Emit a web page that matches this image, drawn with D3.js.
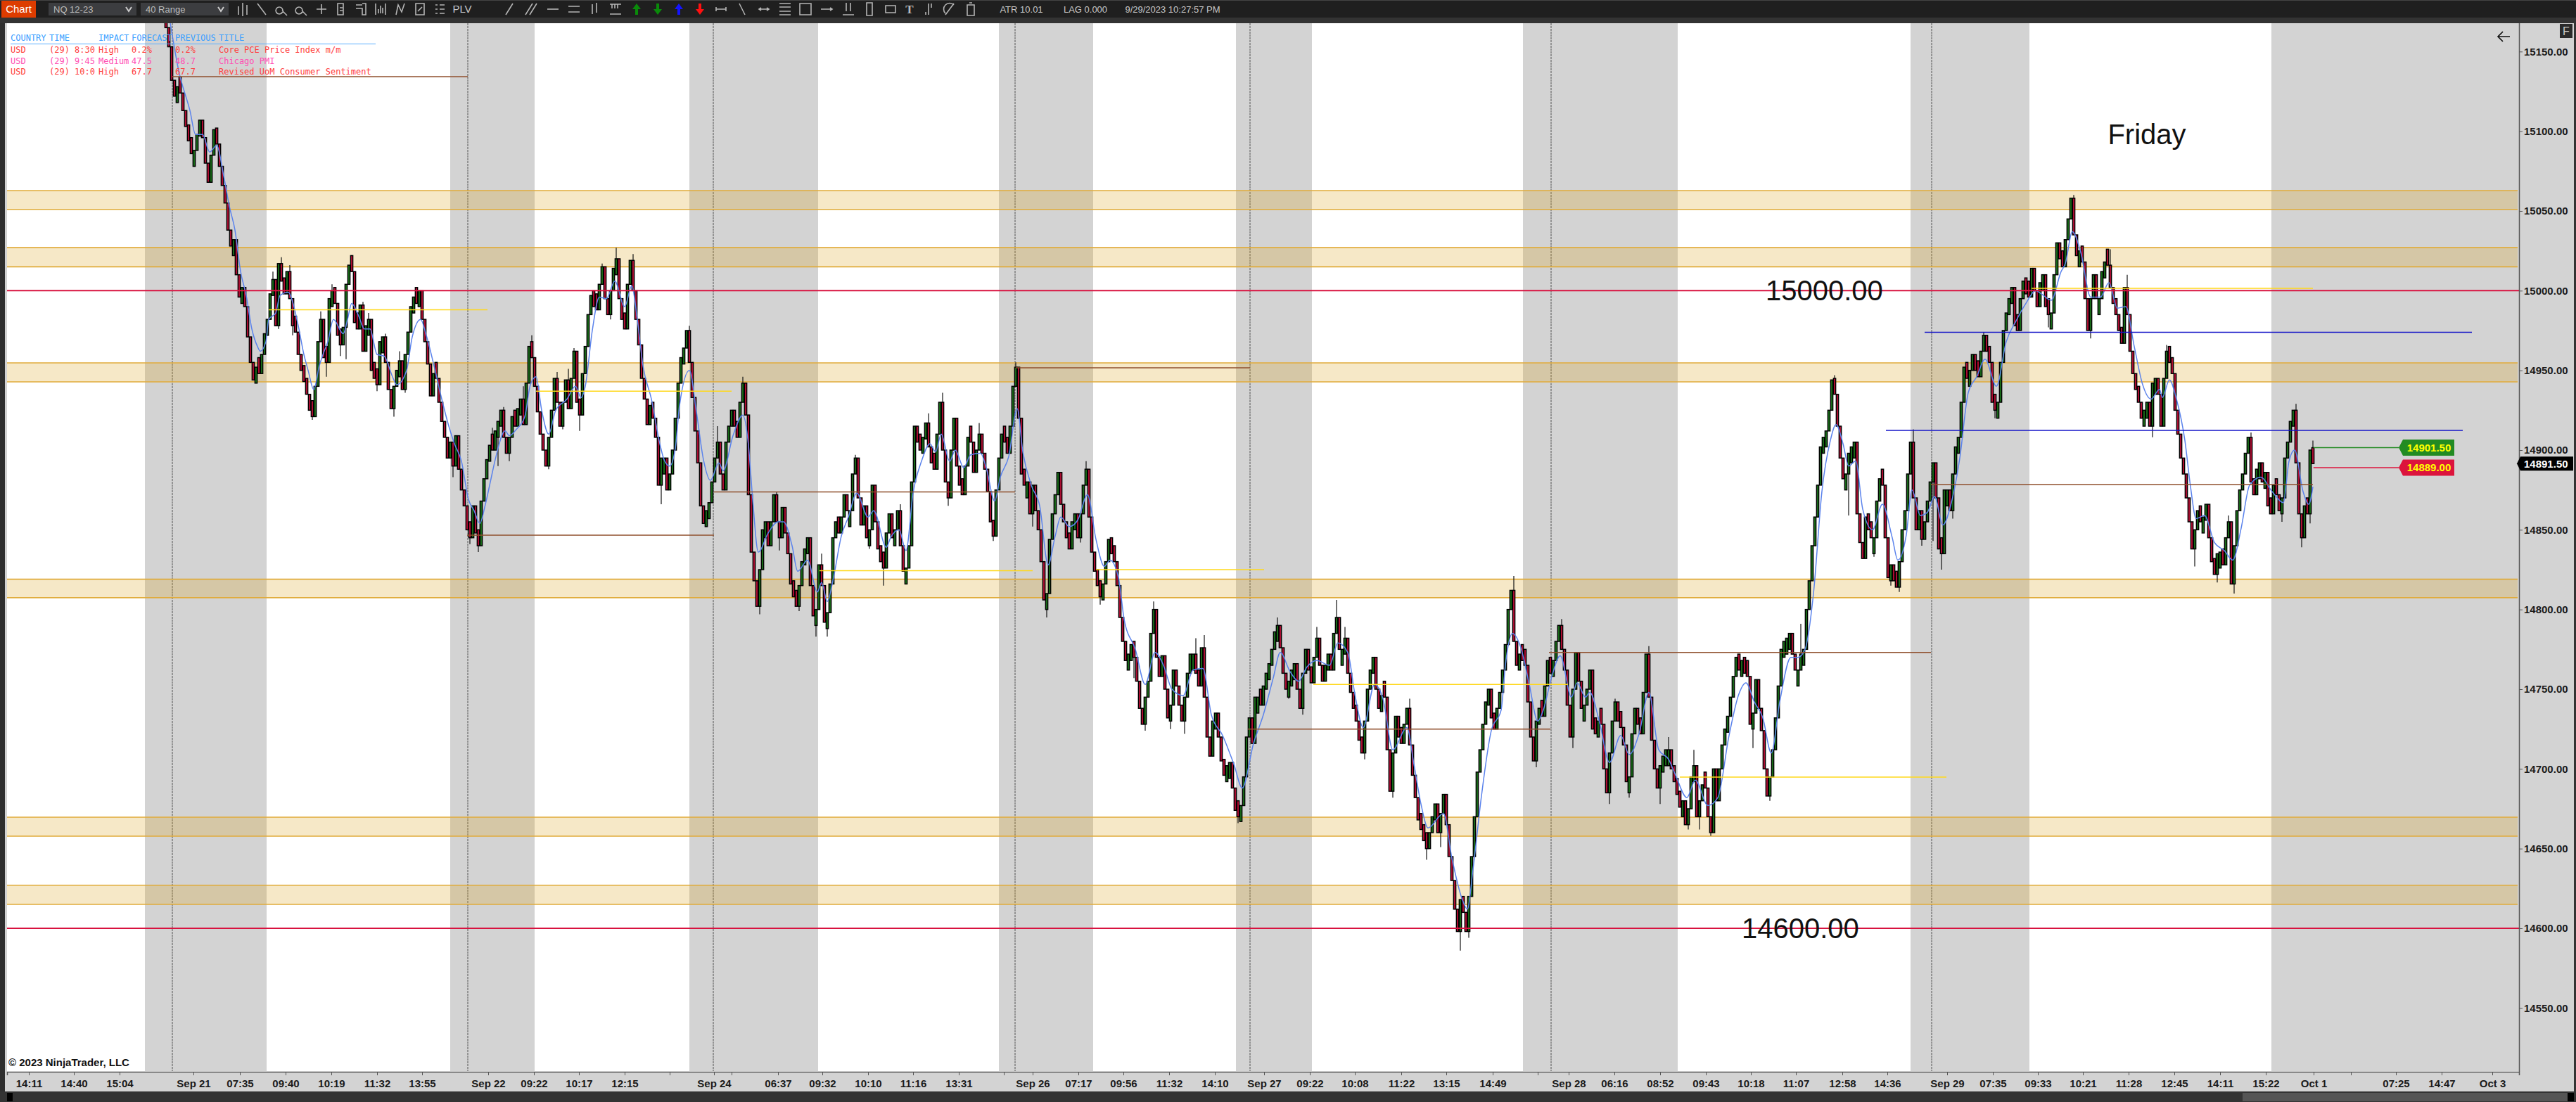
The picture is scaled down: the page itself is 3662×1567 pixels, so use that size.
<!DOCTYPE html>
<html><head><meta charset="utf-8"><title>NQ 12-23 40 Range</title>
<script src="https://cdn.jsdelivr.net/npm/d3@7"></script>
<style>html,body{margin:0;padding:0;background:#333;overflow:hidden}svg{display:block}text{font-family:"Liberation Sans",Arial,sans-serif}</style>
</head><body><svg id="c" width="3662" height="1567"></svg>
<script>
// ---------- data ----------
const firstBarSlot = 56.5;
const closes1=[15165,15153,15132,15122,15128,15124,15113,15103,15094,15086,15088,15098,15107,15096,15080,15068,15085,15101,15092,15078,15066,15055,15038,15028,15032,15010,14996,15002,14990,14971,14955,14944,14952,14948,14960,14973,14982,14998,15007,14978,15017,15006,14998,15012,14995,14978,14974,14960,14950,14943];
const closes2=[14935,14925,14921,14940,14968,14982,14958,14955,14995,15000,14992,14972,14966,14977,15004,15016,15012,14980,14976,14991,14962,14978,14982,14950,14945,14941,14968,14971,14955,14938,14926,14940,14950,14956,14938,14960,14974,14990,14996,14992,15000,14982,14968,14954,14934,14948,14945,14930,14918,14908];
const closes3=[14895,14905,14890,14909,14888,14875,14865,14850,14845,14865,14848,14840,14868,14882,14894,14903,14900,14912,14918,14925,14908,14898,14908,14921,14915,14926,14932,14916,14942,14965,14958,14940,14924,14910,14900,14890,14908,14925,14945,14930,14915,14930,14944,14926,14945,14962,14930,14922,14948,14965];
const closes4=[14985,14997,14990,14988,15004,15015,14995,14985,15000,15014,15020,14995,14982,14976,15004,15019,15000,14982,14966,14945,14932,14916,14928,14920,14908,14878,14895,14895,14875,14885,14900,14920,14942,14958,14964,14975,14955,14933,14912,14892,14865,14854,14862,14867,14880,14895,14905,14885,14875,14905];
const closes5=[14915,14925,14915,14908,14930,14942,14922,14872,14836,14818,14802,14825,14850,14855,14840,14855,14872,14855,14845,14864,14848,14835,14816,14808,14802,14815,14830,14838,14845,14815,14796,14800,14828,14815,14792,14798,14816,14845,14855,14848,14858,14872,14862,14862,14885,14895,14870,14853,14865,14845];
const closes6=[14850,14878,14855,14838,14830,14826,14848,14860,14845,14850,14862,14840,14824,14826,14840,14880,14915,14905,14900,14908,14917,14902,14892,14888,14910,14930,14900,14880,14870,14900,14920,14890,14878,14872,14890,14908,14905,14886,14900,14910,14898,14888,14874,14855,14846,14875,14895,14910,14905,14898];
const closes7=[14915,14940,14952,14920,14885,14878,14880,14860,14878,14862,14850,14830,14806,14810,14844,14860,14872,14886,14866,14855,14845,14838,14855,14860,14845,14860,14878,14888,14858,14836,14824,14815,14808,14816,14830,14844,14835,14830,14815,14795,14780,14768,14772,14778,14770,14755,14738,14728,14745,14755];
const closes8=[14785,14800,14770,14758,14771,14750,14732,14740,14762,14752,14740,14730,14745,14760,14772,14772,14760,14752,14776,14745,14720,14708,14730,14735,14720,14705,14696,14702,14704,14688,14674,14670,14677,14695,14720,14732,14716,14745,14745,14740,14752,14760,14766,14775,14786,14790,14776,14760,14750,14755];
const closes9=[14762,14766,14750,14738,14760,14775,14762,14754,14770,14782,14765,14755,14765,14772,14762,14785,14795,14775,14775,14782,14760,14748,14738,14730,14718,14710,14730,14750,14762,14770,14750,14738,14746,14745,14712,14686,14710,14733,14720,14716,14728,14738,14715,14696,14682,14668,14662,14655,14650,14660];
const closes10=[14670,14678,14660,14672,14684,14665,14645,14630,14612,14598,14618,14610,14598,14620,14645,14670,14698,14712,14728,14742,14750,14732,14725,14738,14748,14762,14778,14800,14812,14780,14765,14772,14768,14765,14742,14720,14705,14730,14738,14733,14752,14768,14760,14768,14780,14790,14775,14762,14740,14720];
const closes11=[14750,14773,14755,14738,14740,14750,14762,14725,14722,14730,14728,14700,14685,14710,14730,14742,14730,14726,14715,14692,14695,14722,14738,14728,14722,14748,14772,14745,14718,14700,14688,14702,14708,14712,14712,14700,14692,14684,14676,14680,14665,14675,14695,14702,14670,14680,14690,14688,14670,14660];
const closes12=[14700,14680,14700,14715,14725,14733,14745,14758,14770,14762,14768,14760,14758,14728,14735,14756,14738,14724,14700,14683,14695,14712,14732,14752,14775,14780,14782,14785,14772,14762,14762,14772,14775,14800,14818,14840,14858,14878,14902,14908,14912,14925,14944,14935,14915,14895,14882,14885,14898,14902];
const closes13=[14905,14860,14842,14832,14858,14850,14845,14845,14868,14882,14878,14845,14820,14828,14818,14814,14830,14850,14862,14885,14905,14870,14850,14862,14844,14855,14868,14880,14892,14870,14838,14835,14875,14875,14862,14885,14902,14908,14930,14952,14945,14950,14960,14950,14946,14962,14972,14962,14955,14930];
const closes14=[14925,14930,14955,14975,14986,14995,15002,14978,14975,14995,15006,14998,14996,15014,15000,14990,15005,15010,14990,14985,14986,15010,15030,15020,15015,15032,15045,15058,15035,15022,15025,15018,14995,14975,14995,15010,14995,14995,15012,15018,15016,15002,14992,14985,14975,14967,15002,14985,14962,14948];
const closes15=[14938,14930,14920,14925,14930,14915,14942,14945,14935,14915,14945,14962,14955,14948,14925,14910,14895,14885,14870,14855,14838,14850,14862,14855,14858,14866,14845,14830,14822,14835,14836,14828,14845,14855,14816,14840,14862,14875,14885,14898,14908,14880,14872,14888,14892,14880,14886,14865,14860,14878,14872,14862,14870,14895,14905,14918,14925,14892,14860,14845,14865,14860,14900,14891.5];
const barRange = 10; // a 40-tick range bar spans 10 points

const wickSlots=[88,94,96,97,100,101,108,111,113,115,118,120,122,126,128,131,134,137,139,141,144,146,158,164,167,172,174,176,178,183,186,192,195,197,199,201,203,211,214,216,222,232,242,252,261,267,273,274,281,287,289,291,301,306,311,317,319,327,332,334,342,345,350,358,364,369,381,383,388,400,404,407,413,418,422,425,437,451,455,460,465,472,475,482,492,498,504,509,516,519,535,543,552,556,569,571,576,583,587,590,595,597,599,601,605,620,626,637,649,654,663,669,672,677,680,684,687,691,702,706,725,734,740,747,753,762,767,777,785,789,791,797,808,813,815,818,819];
const wickTips=[14942,15012,14976,15021,15016,14972,14919,14987,14946,15004,14959,14957,15018,14993,14986,14937,14973,14921,14962,14936,14995,15000,14883,14841,14836,14914,14890,14927,14893,14940,14972,14888,14949,14913,14951,14964,14912,15017,14982,15027,15023,14866,14978,14915,14946,14797,14874,14837,14799,14783,14835,14783,14897,14838,14815,14866,14817,14923,14936,14865,14914,14917,14843,14955,14852,14795,14842,14893,14803,14757,14724,14805,14725,14722,14782,14784,14666,14795,14744,14734,14789,14806,14789,14706,14682,14744,14643,14651,14586,14594,14821,14701,14794,14713,14678,14744,14682,14777,14678,14720,14670,14662,14712,14662,14658,14713,14680,14791,14947,14859,14833,14815,14811,14913,14840,14843,14825,14857,14974,14920,14977,15060,14970,15026,15010,14908,14966,14827,14817,14859,14810,14911,14855,14929,14839,14854,14906];

const avgSlots=[58,61,65,67,69.5,72,74.5,77,79,81,83,85,87,89,90,92,93,95.5,97,100,101.5,103.5,105.5,107,109,111,112.5,114,116,119.5,121,122.5,125,127,129,131.5,134,137,138.5,142,144,147,149,152,154.5,157,159,161.5,164,166,168,170,172,173.5,177,178.5,181,184,186,188,190,192.5,195,199,202,204,205.5,208,210.5,213,216,219.5,222,224,226,229,232,233.5,235.5,237.5,239,242.5,245,247.5,250,253,254.5,258,261.5,263.5,265,267,270.5,274,276,279,281,284.5,288,289.5,291.5,293.5,296.5,299,302,306,308,312.5,314,317,319.5,322,325,328,330,332,335,337,340,342.5,346,348,351,353,356,359,361,364,367,370,372.5,374.5,377.5,380.5,384,387,390,392,395,397,401,404.5,408,411,414,418,421.5,425,428,432,436,439,443,446.5,450,452.5,456,459,462,465.5,470,473,476.5,479,482,486,489,492.5,497.5,500,502.5,505,510.5,513.5,517,519,521,524,527.5,531,532.5,535,538,541,544,546,549,552,556,558,561,562.5,566,569.5,573.5,576.5,580,583.5,587,590.5,593,597,600,604.5,608,612,615.5,618,621,624,627,630,634,636.5,639,642,645,648,650,652.5,654.5,657,659.5,663,666.5,670,672,675,677,680,682.5,685,688,691,694,697,700,703,707,710.5,714,717.5,721,723,726.5,730,731.5,734,737,740.5,744,747,750,753,756,759,762,765,766,768.5,771,774,776,778,781,784.5,788,791,794,797,801,805,809,811,813,816,818,819.5];
const avgValues=[15168,15138,15113,15098,15098,15087,15091,15072,15053,15038,15012,14997,14976,14965,14962,14968,14982,14986,14997,14999,14993,14978,14960,14950,14938,14953,14961,14968,14982,14973,14982,14992,14984,14976,14976,14960,14959,14946,14941,14950,14971,14982,14972,14951,14932,14915,14904,14893,14869,14862,14854,14866,14882,14894,14912,14909,14913,14921,14941,14946,14925,14910,14925,14932,14940,14933,14940,14975,14996,14995,15006,14990,15003,14982,14953,14932,14904,14894,14890,14901,14928,14950,14924,14894,14881,14892,14887,14909,14922,14903,14869,14836,14848,14855,14855,14840,14824,14831,14811,14817,14805,14818,14846,14858,14873,14858,14862,14839,14845,14850,14837,14873,14893,14904,14899,14910,14893,14900,14889,14897,14898,14889,14868,14883,14896,14926,14899,14878,14865,14828,14846,14858,14852,14856,14872,14844,14827,14831,14820,14794,14775,14753,14773,14765,14750,14746,14762,14763,14734,14721,14703,14688,14716,14734,14757,14773,14761,14755,14764,14768,14765,14779,14773,14747,14726,14753,14744,14712,14726,14703,14678,14663,14672,14644,14619,14612,14637,14683,14724,14737,14765,14785,14776,14753,14730,14737,14758,14771,14745,14754,14745,14748,14729,14704,14721,14709,14722,14748,14712,14706,14696,14682,14693,14677,14682,14721,14747,14754,14742,14732,14710,14742,14770,14770,14775,14810,14874,14906,14916,14904,14890,14893,14863,14850,14866,14845,14831,14847,14875,14859,14861,14871,14853,14867,14895,14936,14946,14957,14940,14968,14981,14992,15000,14998,14994,15012,15017,15037,15024,14996,14996,15005,14989,14990,14965,14941,14932,14938,14933,14944,14932,14906,14877,14857,14859,14842,14837,14831,14851,14878,14883,14874,14867,14893,14900,14874,14866,14877];

const slotMax=892.75;
const sessionStart=[49,157.5,242.5,352.5,436.75,538.75,676.5,804.75];
const sessionEnd=[92.25,187.5,288.25,386,463.75,593.75,718.75,892.75];
const dayBreakSlots=[58.75,163.75,251,358.25,441.75,548.75,684];
const zoneTop=[15062.8,15027,14954.7,14819,14669.7,14627];
const zoneBottom=[15051,15015,14942.8,14807.4,14657.8,14615];
const redLevels=[15000,14600];
const brownPrice=[15134.3,14846.6,14873.7,14951.6,14725,14773,14878.4];
const brownFrom=[58.75,163.5,251.25,358.5,441,548,683.75];
const brownTo=[163.75,251.25,358.25,441.75,548.5,683.75,819.5];
const goldPrice=[14988,14937,14824.3,14825,14753,14694.9,15001.5];
const goldFrom=[93,188,288.75,387,464.25,594.5,719.5];
const goldTo=[170.75,257.5,364.5,446.75,554.75,689.25,819.5];
const bluePrice=[14973.9,14912.4];
const blueFrom=[681.5,667.75];
const blueTo=[876,872.75];
const priceTicks=[15150,15100,15050,15000,14950,14900,14850,14800,14750,14700,14650,14600,14550];
const tickSlots=[7.75,23.75,40,66.25,82.75,99,115.25,131.5,147.5,171,187.25,203.25,219.5,235.5,251.25,257.5,274,289.75,306,322,338.25,354.25,364.5,380.75,396.75,413,429.25,446.75,463,479,495.5,511.5,528,544,555,571.25,587.5,603.75,619.75,635.75,652.25,668.25,689.5,705.75,721.75,737.75,754,770.25,786.5,802.75,819.75,833,849,865.25,883.25];
const tickLabels=["14:11","14:40","15:04","Sep 21","07:35","09:40","10:19","11:32","13:55","Sep 22","09:22","10:17","12:15","","Sep 24","","06:37","09:32","10:10","11:16","13:31","","Sep 26","07:17","09:56","11:32","14:10","Sep 27","09:22","10:08","11:22","13:15","14:49","","Sep 28","06:16","08:52","09:43","10:18","11:07","12:58","14:36","Sep 29","07:35","09:33","10:21","11:28","12:45","14:11","15:22","Oct 1","","07:25","14:47","Oct 3"];
const newsHeader=["COUNTRY","TIME","IMPACT","FORECAST","PREVIOUS","TITLE"];
const newsRows=[["USD","(29) 8:30","High","0.2%","0.2%","Core PCE Price Index m/m"],["USD","(29) 9:45","Medium","47.5","48.7","Chicago PMI"],["USD","(29) 10:0","High","67.7","67.7","Revised UoM Consumer Sentiment"]];
const newsColors=["#ff3d3d","#ff4fb4","#ff3d3d"];
const bigNotes=[["15000.00",15000],["14600.00",14600]];
const askPrice=14901.5, bidPrice=14889, lastPrice=14891.5;

// ---------- layout ----------
const L=10,R=3581,T=33,B=1524;
const x=d3.scaleLinear().domain([0,slotMax]).range([L,R]);
const y=d3.scaleLinear().domain([14900,14550]).range([640,640+350*2.2667]);
const svg=d3.select("#c");
const closes=[closes1,closes2,closes3,closes4,closes5,closes6,closes7,closes8,closes9,closes10,closes11,closes12,closes13,closes14,closes15].flat();
const bars=closes.map((c,i)=>{
  const prev=i?closes[i-1]:c+barRange, up=c>=prev;
  const open=Math.abs(c-prev)>barRange?prev:(up?c-barRange:c+barRange);
  return {slot:firstBarSlot+i,close:c,open,up};
});

svg.append("rect").attr("width",3662).attr("height",1567).attr("fill","#d3d3d3");
svg.append("rect").attr("x",L).attr("y",T).attr("width",R-L).attr("height",B-T).attr("fill","#fff");
svg.append("defs").append("clipPath").attr("id","plot").append("rect").attr("x",L).attr("y",T).attr("width",R-L).attr("height",B-T-1);
const plot=svg.append("g").attr("clip-path","url(#plot)");

plot.selectAll("rect.s").data(sessionStart).join("rect").attr("class","s")
  .attr("x",d=>x(d)).attr("width",(d,i)=>x(sessionEnd[i])-x(d)).attr("y",T).attr("height",B-T).attr("fill","#d3d3d3");
plot.selectAll("line.d").data(dayBreakSlots).join("line").attr("class","d")
  .attr("x1",d=>x(d)).attr("x2",d=>x(d)).attr("y1",T).attr("y2",B).attr("stroke","#555").attr("stroke-width",1).attr("stroke-dasharray","3,1");

// zones
const zones=plot.selectAll("g.z").data(zoneTop).join("g").attr("class","z");
zones.append("rect").attr("x",L).attr("width",R-L-2).attr("y",d=>y(d)).attr("height",(d,i)=>y(zoneBottom[i])-y(d)).attr("fill","goldenrod").attr("fill-opacity",.25);
zones.append("line").attr("x1",L).attr("x2",R-2).attr("y1",d=>y(d)).attr("y2",d=>y(d)).attr("stroke","#e0ab3a").attr("stroke-width",1.6);
zones.append("line").attr("x1",L).attr("x2",R-2).attr("y1",(d,i)=>y(zoneBottom[i])).attr("y2",(d,i)=>y(zoneBottom[i])).attr("stroke","#e0ab3a").attr("stroke-width",1.6);

// news table
const news=svg.append("g").attr("font-size",12);
const newsX=[15,70,140,187,249,311];
newsHeader.forEach((t,i)=>news.append("text").text(t).attr("x",newsX[i]).attr("y",58).attr("fill","#3aa0ff").style("font-family","'DejaVu Sans Mono',monospace"));
news.append("line").attr("x1",15).attr("x2",534).attr("y1",62.5).attr("y2",62.5).attr("stroke","#58aeff").attr("stroke-width",1);
newsRows.forEach((r,k)=>r.forEach((t,i)=>news.append("text").text(t).attr("x",newsX[i]).attr("y",75+k*15.5).attr("fill",newsColors[k]).style("font-family","'DejaVu Sans Mono',monospace")));

// wicks
const wg=plot.append("g").attr("stroke","#111").attr("stroke-width",1.2);
wickSlots.forEach((s,i)=>{
  const b=bars[Math.max(0,Math.min(bars.length-1,Math.round(s-firstBarSlot)))];
  wg.append("line").attr("x1",x(b.slot)).attr("x2",x(b.slot)).attr("y1",y(b.close)).attr("y2",y(wickTips[i]));
});
// candles
plot.append("g").selectAll("rect").data(bars).join("rect")
  .attr("x",d=>x(d.slot)-1.6).attr("width",3.2)
  .attr("y",d=>y(Math.max(d.open,d.close))).attr("height",d=>Math.abs(y(d.open)-y(d.close)))
  .attr("fill",d=>d.up?"#1c7a1c":"#c8103a").attr("stroke","#000").attr("stroke-width",1.5);

// moving average
plot.append("path").datum(avgSlots).attr("fill","none").attr("stroke","#5b83ec").attr("stroke-width",1.5)
  .attr("d",d3.line().x(d=>x(d)).y((d,i)=>y(avgValues[i])).curve(d3.curveMonotoneX));

// horizontal levels
function levels(p,f,t,col,w){plot.append("g").selectAll("line").data(p).join("line")
  .attr("x1",(d,i)=>x(f[i])).attr("x2",(d,i)=>x(t[i])).attr("y1",d=>y(d)).attr("y2",d=>y(d)).attr("stroke",col).attr("stroke-width",w);}
levels(redLevels,redLevels.map(()=>0),redLevels.map(()=>slotMax),"#d8123f",2);
levels(brownPrice,brownFrom,brownTo,"#8f4f2c",1.5);
levels(goldPrice,goldFrom,goldTo,"#ffd81a",1.5);
levels(bluePrice,blueFrom,blueTo,"#1414c8",1.5);

// big annotations
const bigX=[2510,2476];
bigNotes.forEach((n,i)=>plot.append("text").text(n[0]).attr("x",bigX[i]).attr("y",y(n[1])+14).attr("font-size",40).attr("fill","#111"));
plot.append("text").text("Friday").attr("x",3052).attr("y",205).attr("text-anchor","middle").attr("font-size",40).attr("fill","#111");
plot.append("text").text("© 2023 NinjaTrader, LLC").attr("x",12).attr("y",1516).attr("font-size",15).attr("font-weight",700).attr("fill","#111");
plot.append("path").attr("d","M3568 52H3551M3558 45L3551 52L3558 59").attr("fill","none").attr("stroke","#111").attr("stroke-width",1.6);

// order markers
function marker(v,label,col){
  const yy=y(v);
  svg.append("line").attr("x1",x(819.7)).attr("x2",3410).attr("y1",yy).attr("y2",yy).attr("stroke",col).attr("stroke-width",1.5);
  svg.append("path").attr("d",`M3410 ${yy}L3416 ${yy-11.5}H3489V${yy+11.5}H3416Z`).attr("fill",col);
  svg.append("text").text(label).attr("x",3453).attr("y",yy+5.5).attr("text-anchor","middle").attr("font-size",15).attr("font-weight",700).attr("fill","#ffff00");
}
marker(askPrice,d3.format(".2f")(askPrice),"#228b22");
marker(bidPrice,d3.format(".2f")(bidPrice),"#dc143c");

// axes
const ax=svg.append("g").attr("transform",`translate(0,${B})`).call(d3.axisBottom(x).tickValues(tickSlots).tickFormat((d,i)=>tickLabels[i]).tickSize(5).tickPadding(6));
ax.select(".domain").attr("stroke","#555").attr("stroke-width",1.5);
ax.selectAll(".tick line").attr("stroke","#555");
ax.selectAll("text").attr("font-size",15).attr("font-weight",700).attr("fill","#1a1a1a").style("font-family","'Liberation Sans',Arial,sans-serif");
const ay=svg.append("g").attr("transform",`translate(${R},0)`).call(d3.axisRight(y).tickValues(priceTicks).tickFormat(d3.format(".2f")).tickSize(5).tickPadding(2));
ay.select(".domain").attr("d",`M0.5,${T}V${B}`).attr("stroke","#555").attr("stroke-width",1.5);
ay.selectAll(".tick line").attr("stroke","#555");
ay.selectAll("text").attr("font-size",15).attr("font-weight",700).attr("fill","#1a1a1a").style("font-family","'Liberation Sans',Arial,sans-serif");
const ly=y(lastPrice);
svg.append("path").attr("d",`M3578 ${ly}L3583 ${ly-10}H3658V${ly+10}H3583Z`).attr("fill","#000");
svg.append("text").text(d3.format(".2f")(lastPrice)).attr("x",3588).attr("y",ly+5.5).attr("font-size",15).attr("font-weight",700).attr("fill","#fff");

// chrome
svg.append("rect").attr("x",0).attr("y",0).attr("width",3662).attr("height",33).attr("fill","#1f1f1f");
svg.append("rect").attr("x",0).attr("y",25).attr("width",3662).attr("height",8).attr("fill","#333");
svg.append("rect").attr("x",0).attr("y",0).attr("width",3662).attr("height",1).attr("fill","#444");
svg.append("rect").attr("x",0).attr("y",33).attr("width",7).attr("height",1534).attr("fill","#2e2e2e");
svg.append("rect").attr("x",3659).attr("y",33).attr("width",3).attr("height",1534).attr("fill","#333");
svg.append("rect").attr("x",0).attr("y",1552).attr("width",3662).attr("height",15).attr("fill","#333");
svg.append("rect").attr("x",3188).attr("y",1554).attr("width",462).attr("height",12).attr("fill","#555");
svg.append("rect").attr("x",10).attr("y",1554).attr("width",8).attr("height",12).attr("fill","#000");
svg.append("rect").attr("x",3650).attr("y",1554).attr("width",9).attr("height",12).attr("fill","#000");
svg.append("rect").attr("x",3639).attr("y",34).attr("width",18).attr("height",20).attr("fill","#2a2a2a");
svg.append("text").text("F").attr("x",3648).attr("y",50).attr("text-anchor","middle").attr("font-size",16).attr("fill","#ccc");
svg.append("rect").attr("x",2).attr("y",1).attr("width",49).attr("height",24).attr("fill","#dd3c00");
svg.append("text").text("Chart").attr("x",26.5).attr("y",18).attr("text-anchor","middle").attr("font-size",15).attr("fill","#fff");
[["NQ 12-23",69],["40 Range",200]].forEach(([t,xx])=>{
  svg.append("rect").attr("x",xx).attr("y",4).attr("width",125).attr("height",18).attr("fill","#3c3d40");
  svg.append("text").text(t).attr("x",xx+7).attr("y",18).attr("font-size",13).attr("fill","#bbb");
  svg.append("path").attr("d",`M${xx+110} 10l4 6l4 -6`).attr("fill","none").attr("stroke","#ccc").attr("stroke-width",2);
});
const iconX=[345,372,400,428,457,485,513,541,569,597,625,724,755,786,816,845,875,1025,1055,1086,1116,1145,1175,1206,1236,1266,1320,1350,1380];
const iconPaths=["M-6 8V-4M0 10V-9M6 8V-6","M-6 -8L6 8","M-3 -3a5 5 0 1 0 .1 0M1 2L8 9","M-3 -3a5 5 0 1 0 .1 0M1 2L8 9","M-7 0H7M0 -7V7","M-5 -8H3V8H-5ZM-2 -2H2M-2 2H2","M-7 -6H2M-7 -1H2V8H7V-8H2","M-7 -8V8M7 -8V8M-3 6V0M0 6V-5M3 6V-2","M-6 8L-3 -6L2 4L6 -8","M-6 -8H6V8H-6ZM-3 3L3 -3","M-6 -6H-3M0 -6H7M-6 0H-3M0 0H7M-6 6H-3M0 6H7","M-5 8L5 -8","M-8 8L2 -8M-2 8L8 -8","M-8 0H8","M-8 -4H8M-8 4H8","M-3 -7V7M3 -9V5","M-8 -7H8M-5 -7V-1M-1 -7V-1M3 -7V-1M-8 7H8","M-7 0H7M-7 -3V3M7 -3V3","M-4 -8L4 8","M-7 0H7M-4 -2L-7 0L-4 2M4 -2L7 0L4 2","M-8 -8H8M-8 -3H8M-8 3H8M-8 8H8","M-8 -8H8V8H-8Z","M-8 0H8M5 -2L8 0L5 2","M-3 -9V3M3 -9V3M-8 8H8","M-4 -9H4V9H-4Z","M-7 -5H7V5H-7Z","M0 -8V8M-4 4V8M4 -8V-2","M-6 6a8 8 0 0 1 12 -12M-6 8L6 -8","M-5 -6H5V9H-5ZM-2 -9H2"];
svg.append("g").attr("fill","none").attr("stroke","#b5b5b5").attr("stroke-width",1.6).selectAll("path").data(iconPaths).join("path")
  .attr("transform",(d,i)=>`translate(${iconX[i]},13)`).attr("d",d=>d);
[[905,"#0a8a0a",1],[935,"#0a8a0a",-1],[965,"#1414ff",1],[995,"#ff1010",-1]].forEach(([xx,c,s])=>
  svg.append("path").attr("transform",`translate(${xx},13) scale(1,${s})`).attr("d","M0 -8L6 0H2V8H-2V0H-6Z").attr("fill",c));
svg.append("text").text("T").attr("x",1293).attr("y",19).attr("text-anchor","middle").attr("font-size",17).attr("font-weight",700).attr("fill","#bbb").style("font-family","'Liberation Serif',serif");
[["PLV",657,15],["ATR 10.01",1452,13],["LAG 0.000",1543,13],["9/29/2023 10:27:57 PM",1667,13]].forEach(([t,xx,fs])=>
  svg.append("text").text(t).attr("x",xx).attr("y",18).attr("text-anchor","middle").attr("font-size",fs).attr("fill","#c8c8c8"));
</script></body></html>
